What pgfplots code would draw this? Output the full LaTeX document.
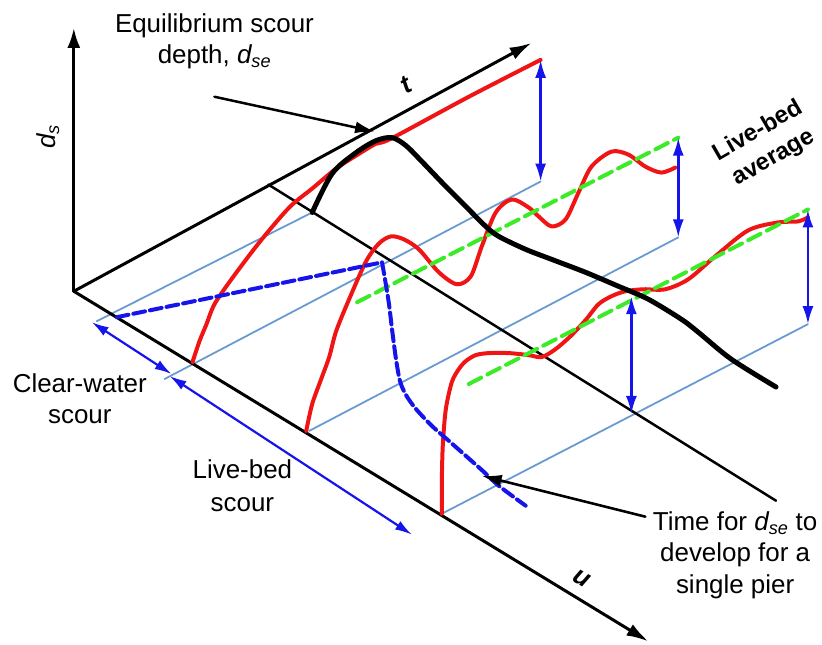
\documentclass[border=0pt]{standalone}
\usepackage{pgfplots}
\pgfplotsset{compat=1.18}
\usepackage{fontspec}
\setmainfont{Liberation Sans}
\usetikzlibrary{arrows.meta}

\definecolor{curvered}{RGB}{240,20,20}
\definecolor{arrowblue}{RGB}{20,20,235}
\definecolor{avggreen}{RGB}{60,235,40}
\definecolor{guideblue}{RGB}{105,155,210}

\begin{document}
\begin{tikzpicture}
\begin{axis}[
  width=822bp, height=646bp, scale only axis,
  xmin=0, xmax=822, ymin=0, ymax=646, y dir=reverse,
  hide axis, clip=false,
  every axis plot/.append style={line cap=round, line join=round},
]
% page extent
\addplot[draw=none] coordinates {(0,0) (822,646)};

% ---- guide lines along t at successive approach velocities
\addplot[guideblue, line width=1.8bp] coordinates {(97,322) (313,213)};
\addplot[guideblue, line width=1.8bp] coordinates {(165,380) (542,182)};
\addplot[guideblue, line width=1.8bp] coordinates {(310,432) (680,238)};
\addplot[guideblue, line width=1.8bp] coordinates {(443,515) (810,325)};

% ---- axes
\addplot[black, line width=3bp, -{Latex[length=20bp,width=13bp]}] coordinates {(74,292) (74,28)};
\addplot[black, line width=3bp, -{Latex[length=22bp,width=13bp]}] coordinates {(74,292) (533,43)};
\addplot[black, line width=3bp, -{Latex[length=22bp,width=13bp]}] coordinates {(74,292) (650,643)};
\addplot[black, line width=2.5bp] coordinates {(269,185) (778,502)};

% ---- scour depth histories
\addplot[curvered, line width=4bp, smooth] coordinates {
  (193,363) (200,342) (207,325) (215,305) (232,280) (260,243) (290,208)
  (313,189) (337,169) (357,156) (377,144) (392,139) (470,97) (542,60)};
\addplot[curvered, line width=4bp, smooth] coordinates {
  (307,432) (313,405) (322,380) (330,358) (337,332) (350,300) (367,262)
  (380,244) (392,237) (405,240) (420,250) (440,273) (458,285) (472,277)
  (483,247) (497,213) (513,200) (530,208) (540,217) (553,227) (567,220)
  (580,193) (593,167) (613,152) (630,155) (647,167) (663,173) (677,168)};
\addplot[curvered, line width=4bp, smooth] coordinates {
  (443,515) (443,480) (444,445) (447,410) (453,383) (460,370) (467,362)
  (477,356) (490,354) (510,354) (530,356) (543,358) (557,350) (572,337)
  (587,321) (600,305) (613,297) (627,292) (645,290) (667,290) (690,280)
  (717,257) (750,231) (780,223) (800,222) (810,218)};

% ---- live-bed averages
\addplot[avggreen, line width=4bp, dash pattern=on 14bp off 7bp] coordinates {(358,303) (680,138)};
\addplot[avggreen, line width=4bp, dash pattern=on 14bp off 7bp] coordinates {(470,385) (810,210)};

% ---- time to equilibrium for a single pier
\addplot[arrowblue, line width=4bp, dash pattern=on 12bp off 5bp] coordinates {(117,318) (383,263)};
\addplot[arrowblue, line width=4bp, dash pattern=on 12bp off 5bp, smooth] coordinates {
  (383,263) (386,280) (390,305) (393,330) (397,360) (401,382) (407,396)
  (417,410) (433,427) (450,442) (467,457) (485,473) (500,487) (527,507)};

% ---- equilibrium scour depth against velocity
\addplot[black, line width=5bp, smooth] coordinates {
  (313,213) (333,174) (357,153) (377,141) (393,138) (407,146) (423,162)
  (447,187) (467,207) (487,227) (500,237) (527,250) (553,260) (587,273)
  (620,287) (650,300) (683,320) (700,333) (733,360) (778,388)};

% ---- depth markers
\addplot[arrowblue, line width=2.5bp, {Latex[length=18bp,width=11bp]}-{Latex[length=18bp,width=11bp]}] coordinates {(542,60) (542,182)};
\addplot[arrowblue, line width=2.5bp, {Latex[length=18bp,width=11bp]}-{Latex[length=18bp,width=11bp]}] coordinates {(680,138) (680,238)};
\addplot[arrowblue, line width=2.5bp, {Latex[length=18bp,width=11bp]}-{Latex[length=18bp,width=11bp]}] coordinates {(633,297) (633,415)};
\addplot[arrowblue, line width=2.5bp, {Latex[length=18bp,width=11bp]}-{Latex[length=18bp,width=11bp]}] coordinates {(810,210) (810,325)};

% ---- velocity ranges
\addplot[arrowblue, line width=2.2bp, {Latex[length=17bp,width=10bp]}-{Latex[length=17bp,width=10bp]}] coordinates {(92,323) (172,375)};
\addplot[arrowblue, line width=2.2bp, {Latex[length=17bp,width=10bp]}-{Latex[length=17bp,width=10bp]}] coordinates {(170,377) (413,536)};

% ---- pointers
\addplot[black, line width=2.5bp, -{Latex[length=20bp,width=12bp]}] coordinates {(215,97) (376,132)};
\addplot[black, line width=2.5bp, -{Latex[length=20bp,width=12bp]}] coordinates {(647,518) (483,477)};

% ---- labels
\begin{scope}[every node/.style={font=\fontsize{26bp}{31bp}\selectfont, inner sep=0pt}]
\node[anchor=base] at (axis cs:215,33) {Equilibrium scour};
\node[anchor=base] at (axis cs:215,64) {depth, \textit{d\textsubscript{se}}};
\node[anchor=base] at (axis cs:80,393) {Clear-water};
\node[anchor=base] at (axis cs:80,425) {scour};
\node[anchor=base] at (axis cs:243,480) {Live-bed};
\node[anchor=base] at (axis cs:243,513) {scour};
\node[anchor=base] at (axis cs:737,532) {Time for \textit{d\textsubscript{se}} to};
\node[anchor=base] at (axis cs:737,563) {develop for a};
\node[anchor=base] at (axis cs:737,595) {single pier};
\node[rotate=90] at (axis cs:48,137) {\textit{d\textsubscript{s}}};
\node[rotate=30] at (axis cs:407,85) {\bfseries\itshape t};
\node[rotate=-30] at (axis cs:583,580) {\bfseries\itshape u};
\node[rotate=30, align=center, font=\fontsize{24bp}{31bp}\selectfont\bfseries] at (axis cs:768,145) {Live-bed\\average};
\end{scope}
\end{axis}
\end{tikzpicture}
\end{document}
